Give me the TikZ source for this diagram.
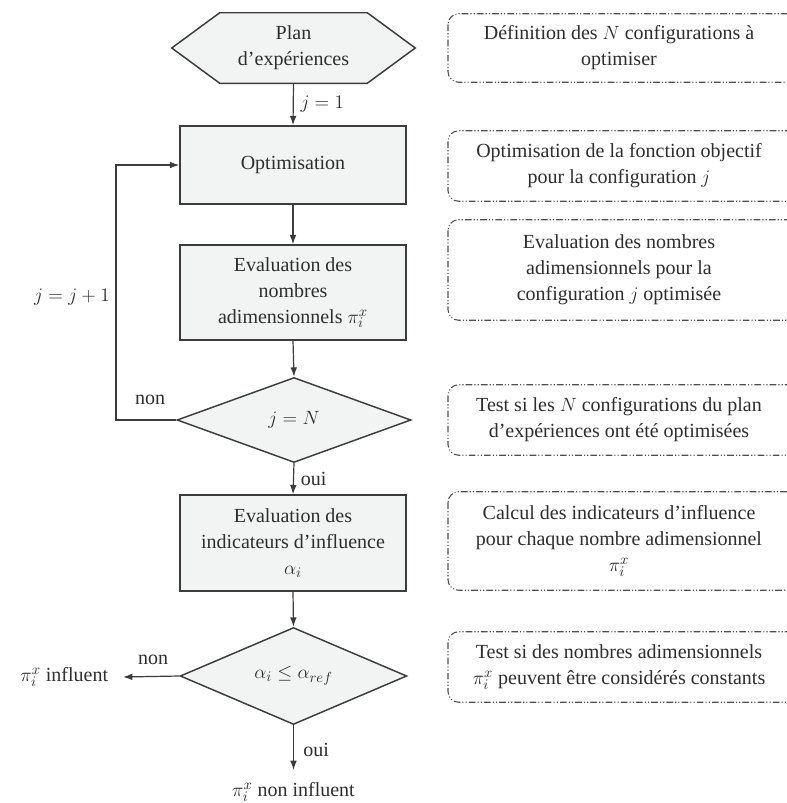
\documentclass[tikz,border=0pt]{standalone}
\usepackage{fontspec}
\setmainfont{Liberation Serif}
\usetikzlibrary{shapes.geometric,arrows.meta,calc}
\definecolor{fillg}{HTML}{F2F3F3}
\definecolor{lineg}{HTML}{3C3C3C}
\definecolor{textg}{HTML}{2E2E2E}
\definecolor{dashg}{HTML}{505050}
\tikzset{
  every node/.style={text=textg, font=\fontsize{15}{19.5}\selectfont, align=center},
  procbox/.style={draw=lineg, fill=fillg, line width=1.1pt, minimum width=169.5pt, inner sep=2pt},
  decision/.style={draw=lineg, fill=fillg, line width=1.1pt, diamond, inner sep=0pt},
  notetext/.style={inner sep=2pt},
  noteframe/.style={draw=dashg, line width=0.8pt, rounded corners=8pt,
     dash pattern=on 5pt off 1.6pt on 0.8pt off 1.6pt on 0.8pt off 1.6pt},
  arr/.style={draw=lineg, line width=0.9pt, -{Latex[length=7pt,width=5pt]}},
  lbl/.style={inner sep=1pt}
}
\begin{document}
\begin{tikzpicture}[x=0.75pt, y=-0.75pt]
\useasboundingbox (0,0) rectangle (787,803);
\clip (0,0) rectangle (787,803);
\fill[white] (0,0) rectangle (787,803);

% hexagon start
\node[minimum width=182.25pt, minimum height=52.5pt, inner sep=0pt] (plan) at (293.5,48) {};
\draw[draw=lineg, fill=fillg, line width=1.1pt]
  (plan.west) -- ($(plan.north west)+(48,0)$) -- ($(plan.north east)+(-48,0)$) -- (plan.east)
  -- ($(plan.south east)+(-48,0)$) -- ($(plan.south west)+(48,0)$) -- cycle;
\node[inner sep=0pt] (plantxt) at (plan.center) {Plan\\d’expériences};

\node[procbox, minimum height=58.5pt] (opt) at (293,165) {Optimisation};
\node[procbox, minimum height=71.25pt] (ev1) at (293,292.5) {Evaluation des\\nombres\\adimensionnels $\pi_i^x$};
\node[decision, minimum width=175.5pt, minimum height=63.75pt] (d1) at (294,420) {$j=N$};
\node[procbox, minimum height=72pt] (ev2) at (293,543) {Evaluation des\\indicateurs d’influence\\$\alpha_i$};
\node[decision, minimum width=170pt, minimum height=70.5pt] (d2) at (293.5,676) {$\alpha_i\le\alpha_{ref}$};

\node[anchor=east, inner xsep=11pt, inner ysep=2pt] (infl) at (123,677) {$\pi_i^x$ influent};
\node[anchor=north, inner ysep=9pt] (ninfl) at (293.5,770) {$\pi_i^x$ non influent};

\coordinate (lp) at (116,420);

% connectors
\draw[arr] (plan.south) -- (opt.north) node[midway, right, lbl, xshift=4pt] {$j=1$};
\draw[arr] (opt.south) -- (ev1.north);
\draw[arr] (ev1.south) -- (d1.north);
\draw[arr] (d1.west) -- (lp) |- (opt.west);
\draw[arr] (d1.south) -- (ev2.north) node[midway, right, lbl, xshift=4pt] {oui};
\draw[arr] (ev2.south) -- (d2.north);
\draw[arr] (d2.west) -- (infl.east);
\draw[arr] (d2.south) -- (ninfl.north) node[midway, right, lbl, xshift=6pt, yshift=-2pt] {oui};

\node[lbl] (non1) at (150,400) {non};
\node[lbl] (jinc) at (72,297) {$j=j+1$};
\node[lbl] (non2) at (153,660) {non};

% notes
\node[notetext, minimum height=51pt] (n1) at (619,48) {Définition des $N$ configurations à\\optimiser};
\node[notetext, minimum height=52.5pt] (n2) at (619,166) {Optimisation de la fonction objectif\\pour la configuration $j$};
\node[notetext, minimum height=75pt] (n3) at (619,270) {Evaluation des nombres\\adimensionnels pour la\\configuration $j$ optimisée};
\node[notetext, minimum height=52.5pt] (n4) at (619,420) {Test si les $N$ configurations du plan\\d’expériences ont été optimisées};
\node[notetext, minimum height=73.5pt] (n5) at (619,541) {Calcul des indicateurs d’influence\\pour chaque nombre adimensionnel\\$\pi_i^x$};
\node[notetext, minimum height=52.5pt] (n6) at (619,667) {Test si des nombres adimensionnels\\$\pi_i^x$ peuvent être considérés constants};
\foreach \n in {n1,n2,n3,n4,n5,n6}
  \draw[noteframe] (448,0 |- \n.north) rectangle (820,0 |- \n.south);
\end{tikzpicture}
\end{document}
